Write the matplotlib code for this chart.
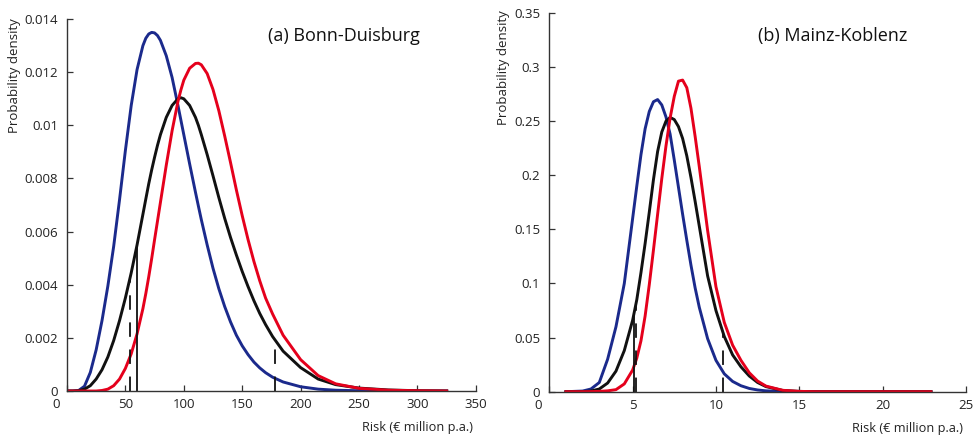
import numpy as np
import matplotlib
matplotlib.use("Agg")
import matplotlib.pyplot as plt
from matplotlib.transforms import ScaledTranslation

plt.rcParams['font.family'] = ['Open Sans', 'DejaVu Sans']

# (a) Bonn-Duisburg, risk in EUR million p.a.
risk_a = [0, 5, 10, 15, 20, 25, 30, 35, 40, 45, 50, 55, 60, 65, 67.5, 70, 72.5, 75, 77.5,
          80, 85, 90, 95, 97.5, 100, 105, 110, 112.5, 115, 120, 125, 130, 135, 140, 145,
          150, 155, 160, 165, 170, 176, 185, 200, 215, 230, 250, 275, 300, 325]
blue_a = [0, 0, 0.00002, 0.00018, 0.0007, 0.00155, 0.00265, 0.00395, 0.00545, 0.0072,
          0.00905, 0.01075, 0.0121, 0.0130, 0.01328, 0.01344, 0.0135, 0.01348, 0.01338,
          0.0132, 0.01262, 0.0118, 0.01075, 0.0102, 0.00965, 0.00855, 0.00748, 0.00696,
          0.00645, 0.0055, 0.00462, 0.00385, 0.00318, 0.0026, 0.0021, 0.0017, 0.00137,
          0.00109, 0.00087, 0.00069, 0.00052, 0.00034, 0.00016, 0.00007, 0.00003, 0.00001,
          0, 0, 0]
black_a = [0, 0, 0.00001, 0.00007, 0.0002, 0.00045, 0.0008, 0.00128, 0.0019, 0.00265,
           0.0035, 0.00445, 0.0055, 0.00665, 0.00723, 0.0078, 0.00832, 0.0088, 0.00925,
           0.00965, 0.0103, 0.01075, 0.0110, 0.01104, 0.0110, 0.01075, 0.0103, 0.0100,
           0.00965, 0.0089, 0.0081, 0.00728, 0.0065, 0.00578, 0.00512, 0.0045, 0.00393,
           0.0034, 0.00292, 0.0025, 0.00205, 0.0015, 0.00088, 0.00045, 0.00024, 0.00011,
           0.00004, 0.00001, 0]
red_a = [0, 0, 0, 0, 0, 0, 0.00002, 0.00007, 0.0002, 0.00045, 0.00085, 0.0014, 0.00215,
         0.0031, 0.00367, 0.0043, 0.00498, 0.0057, 0.0064, 0.0071, 0.0085, 0.0098, 0.0109,
         0.01133, 0.0117, 0.01215, 0.01233, 0.01234, 0.01228, 0.01195, 0.01135, 0.01055,
         0.0096, 0.0086, 0.00757, 0.0066, 0.0057, 0.00488, 0.00415, 0.0035, 0.0029, 0.0021,
         0.00118, 0.00058, 0.00027, 0.0001, 0.00003, 0.00001, 0]
solid_a = [59.8]
dashed_a = [54, 178]

# (b) Mainz-Koblenz
risk_b = [1.0, 2.0, 2.5, 3.0, 3.5, 4.0, 4.5, 5.0, 5.25, 5.5, 5.75, 6.0, 6.25, 6.5, 6.75,
          7.0, 7.25, 7.5, 7.75, 8.0, 8.25, 8.5, 8.75, 9.0, 9.5, 10.0, 10.5, 11.0, 11.5,
          12.0, 12.5, 13.0, 14.0, 15.0, 16.0, 18.0, 20.0, 22.9]
blue_b = [0, 0.0006, 0.0025, 0.0085, 0.030, 0.060, 0.100, 0.160, 0.190, 0.219, 0.243,
          0.259, 0.268, 0.270, 0.265, 0.254, 0.238, 0.214, 0.189, 0.164, 0.140, 0.117,
          0.096, 0.078, 0.049, 0.029, 0.0165, 0.0095, 0.0055, 0.003, 0.0016, 0.0008,
          0.0002, 0, 0, 0, 0, 0]
black_b = [0, 0, 0.0006, 0.0025, 0.008, 0.019, 0.038, 0.066, 0.085, 0.110, 0.137, 0.166,
           0.196, 0.222, 0.240, 0.250, 0.2535, 0.2515, 0.245, 0.234, 0.218, 0.198, 0.176,
           0.153, 0.107, 0.075, 0.051, 0.034, 0.023, 0.0145, 0.0085, 0.0047, 0.0012,
           0.0003, 0, 0, 0, 0]
red_b = [0, 0, 0.0001, 0.0003, 0.0008, 0.0019, 0.0072, 0.020, 0.031, 0.047, 0.070, 0.099,
         0.131, 0.164, 0.197, 0.227, 0.253, 0.273, 0.287, 0.288, 0.281, 0.262, 0.236,
         0.208, 0.149, 0.097, 0.064, 0.043, 0.029, 0.0175, 0.0098, 0.0052, 0.0013, 0.0003,
         0, 0, 0, 0]
solid_b = [5.1]
dashed_b = [5.2, 10.45]

xticks_a = [0, 50, 100, 150, 200, 250, 300, 350]
yticks_a = [0, 0.002, 0.004, 0.006, 0.008, 0.01, 0.012, 0.014]
xticks_b = [0, 5, 10, 15, 20, 25]
yticks_b = [0, 0.05, 0.1, 0.15, 0.2, 0.25, 0.3, 0.35]

BLUE = '#1b2a8c'
RED = '#e5001c'
BLACK = '#111111'
AX = '#333333'


def draw_panel(fig, rect, x, blue, black, red, solid, dashed, xticks, yticks, title,
               title_xy, ylab_xy):
    ax = fig.add_axes(rect)
    ax.plot(x, blue, color=BLUE, lw=2.1, solid_joinstyle='round')
    ax.plot(x, black, color=BLACK, lw=2.1, solid_joinstyle='round')
    ax.plot(x, red, color=RED, lw=2.1, solid_joinstyle='round')

    # vertical markers run from the axis up to the black curve
    for xv in solid:
        top = np.interp(xv, x, black)
        ax.plot([xv, xv], [0, top], color=BLACK, lw=1.3)
    for xv in dashed:
        top = np.interp(xv, x, black)
        ax.plot([xv, xv], [0, top], color=BLACK, lw=1.3, dashes=(8, 7))

    ax.set_xlim(xticks[0], xticks[-1])
    ax.set_ylim(yticks[0], yticks[-1])
    ax.set_xticks(xticks)
    ax.set_yticks(yticks)
    ax.set_xticklabels(['%g' % v for v in xticks])
    ax.set_yticklabels(['%g' % v for v in yticks])
    for s in ['top', 'right']:
        ax.spines[s].set_visible(False)
    for s in ['left', 'bottom']:
        ax.spines[s].set_color(AX)
        ax.spines[s].set_linewidth(1.0)
    ax.tick_params(direction='in', length=4, width=0.9, color=AX, labelsize=9.5,
                   labelcolor='#222222')
    ax.tick_params(axis='y', pad=6.5)
    ax.tick_params(axis='x', pad=5)

    # the x "0" sits left of the axis corner
    lab = ax.get_xticklabels()[0]
    lab.set_transform(lab.get_transform() + ScaledTranslation(-0.11, 0, fig.dpi_scale_trans))

    ax.text(title_xy[0], title_xy[1], title, transform=ax.transAxes, fontsize=13,
            ha='left', va='center', color='#111111')
    ax.text(ylab_xy[0], ylab_xy[1], 'Probability density', transform=ax.transAxes,
            rotation=90, ha='center', va='top', fontsize=9.5, color='#222222')
    ax.text(0.993, -0.098, 'Risk (€ million p.a.)', transform=ax.transAxes,
            ha='right', va='center', fontsize=9.2, color='#222222')
    return ax


fig = plt.figure(figsize=(9.76, 4.36), dpi=100)
draw_panel(fig, [0.0686, 0.1032, 0.419, 0.853], risk_a, blue_a, black_a, red_a,
           solid_a, dashed_a, xticks_a, yticks_a, '(a) Bonn-Duisburg', (0.491, 0.954),
           (-0.128, 1.003))
draw_panel(fig, [0.5628, 0.1016, 0.4269, 0.8686], risk_b, blue_b, black_b, red_b,
           solid_b, dashed_b, xticks_b, yticks_b, '(b) Mainz-Koblenz', (0.501, 0.939),
           (-0.111, 1.008))

fig.savefig('out.png', dpi=100)
